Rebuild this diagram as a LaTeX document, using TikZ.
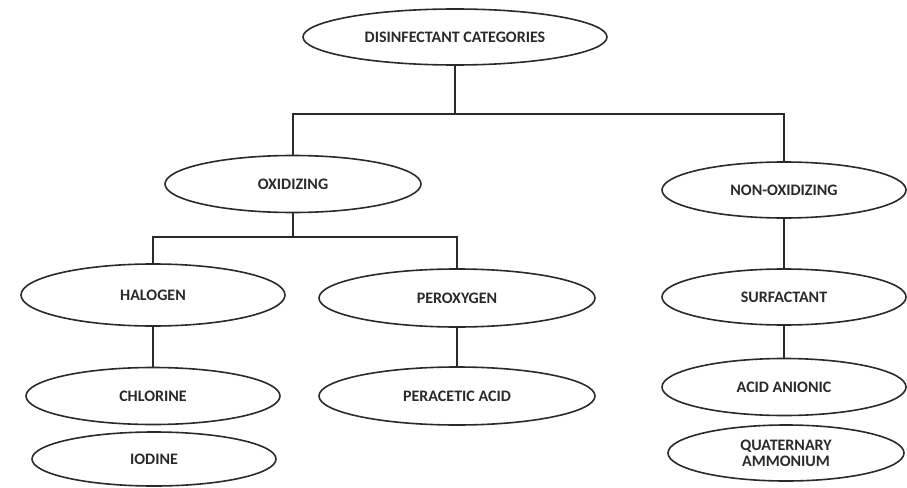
\documentclass[tikz,border=0pt]{standalone}
\usepackage{fontspec}
\setmainfont{Carlito}
\usetikzlibrary{shapes.geometric}
\definecolor{ink}{HTML}{2A2A2A}
\begin{document}
\begin{tikzpicture}[x=1pt,y=-1pt,
  cat/.style={ellipse,draw=ink,line width=1.6pt,fill=white,inner sep=0pt,
    font=\bfseries\fontsize{16}{17}\selectfont,text=ink,align=center},
  link/.style={draw=ink,line width=1.2pt}]
\useasboundingbox (0,0) rectangle (907,487);
\node[cat,minimum width=304pt,minimum height=56pt] (top) at (455,37) {DISINFECTANT CATEGORIES};
\node[cat,minimum width=256pt,minimum height=57pt] (oxi) at (293,184) {OXIDIZING};
\node[cat,minimum width=244pt,minimum height=56pt] (non) at (784,190) {NON-OXIDIZING};
\node[cat,minimum width=264pt,minimum height=62pt] (hal) at (153,295) {HALOGEN};
\node[cat,minimum width=254pt,minimum height=57pt] (chl) at (153,396) {CHLORINE};
\node[cat,minimum width=244pt,minimum height=54pt] (iod) at (154,459) {IODINE};
\node[cat,minimum width=276pt,minimum height=58pt] (per) at (457,298) {PEROXYGEN};
\node[cat,minimum width=276pt,minimum height=58pt] (pac) at (457,396) {PERACETIC ACID};
\node[cat,minimum width=244pt,minimum height=56pt] (sur) at (784,297) {SURFACTANT};
\node[cat,minimum width=244pt,minimum height=57pt] (aan) at (784,387) {ACID ANIONIC};
\node[cat,minimum width=236pt,minimum height=56pt] (qua) at (786,453) {QUATERNARY\\[-1pt]AMMONIUM};
\coordinate (j1) at (455,114);
\coordinate (j2) at (293,237);
\draw[link] (top.south) -- (j1);
\draw[link] (oxi.north) |- (j1) -| (non.north);
\draw[link] (oxi.south) -- (j2);
\draw[link] (hal.north) |- (j2) -| (per.north);
\draw[link] (hal.south) -- (chl.north);
\draw[link] (per.south) -- (pac.north);
\draw[link] (non.south) -- (sur.north);
\draw[link] (sur.south) -- (aan.north);
\end{tikzpicture}
\end{document}
